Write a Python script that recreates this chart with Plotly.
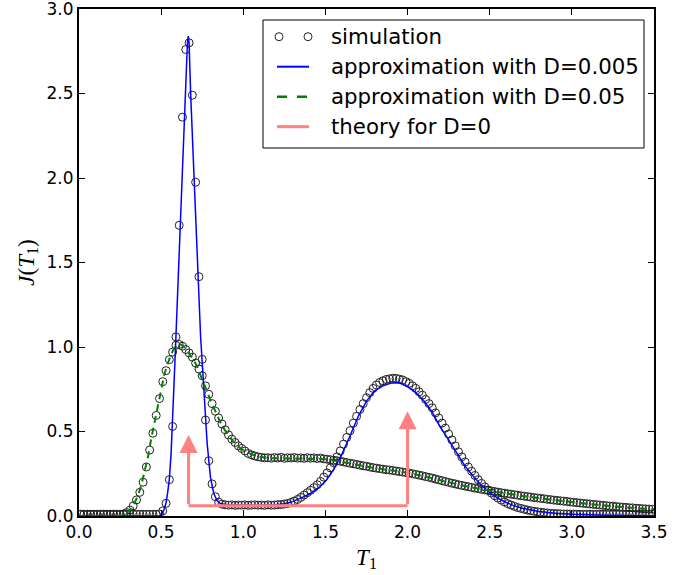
import plotly.graph_objects as go

# ---------------- data ----------------
# bin centres of the simulated histograms
sim_t = [
    0.01, 0.03, 0.05, 0.07, 0.09, 0.11, 0.13, 0.15, 0.17, 0.19,
    0.21, 0.23, 0.25, 0.27, 0.29, 0.31, 0.33, 0.35, 0.37, 0.39,
    0.41, 0.43, 0.45, 0.47, 0.49, 0.51, 0.53, 0.55, 0.57, 0.59,
    0.61, 0.63, 0.65, 0.67, 0.69, 0.71, 0.73, 0.75, 0.77, 0.79,
    0.81, 0.83, 0.85, 0.87, 0.89, 0.91, 0.93, 0.95, 0.97, 0.99,
    1.01, 1.03, 1.05, 1.07, 1.09, 1.11, 1.13, 1.15, 1.17, 1.19,
    1.21, 1.23, 1.25, 1.27, 1.29, 1.31, 1.33, 1.35, 1.37, 1.39,
    1.41, 1.43, 1.45, 1.47, 1.49, 1.51, 1.53, 1.55, 1.57, 1.59,
    1.61, 1.63, 1.65, 1.67, 1.69, 1.71, 1.73, 1.75, 1.77, 1.79,
    1.81, 1.83, 1.85, 1.87, 1.89, 1.91, 1.93, 1.95, 1.97, 1.99,
    2.01, 2.03, 2.05, 2.07, 2.09, 2.11, 2.13, 2.15, 2.17, 2.19,
    2.21, 2.23, 2.25, 2.27, 2.29, 2.31, 2.33, 2.35, 2.37, 2.39,
    2.41, 2.43, 2.45, 2.47, 2.49, 2.51, 2.53, 2.55, 2.57, 2.59,
    2.61, 2.63, 2.65, 2.67, 2.69, 2.71, 2.73, 2.75, 2.77, 2.79,
    2.81, 2.83, 2.85, 2.87, 2.89, 2.91, 2.93, 2.95, 2.97, 2.99,
    3.01, 3.03, 3.05, 3.07, 3.09, 3.11, 3.13, 3.15, 3.17, 3.19,
    3.21, 3.23, 3.25, 3.27, 3.29, 3.31, 3.33, 3.35, 3.37, 3.39,
    3.41, 3.43, 3.45, 3.47, 3.49,
]

# simulation, D = 0.005
sim_j_d005 = [
    0.01, 0.01, 0.01, 0.01, 0.01, 0.01, 0.01, 0.01, 0.01, 0.01,
    0.01, 0.01, 0.01, 0.01, 0.01, 0.01, 0.01, 0.01, 0.01, 0.01,
    0.01, 0.01, 0.01, 0.01, 0.012, 0.03, 0.075, 0.215, 0.53, 1.06,
    1.72, 2.36, 2.76, 2.80, 2.49, 1.975, 1.416, 0.927, 0.568, 0.327,
    0.19, 0.114, 0.082, 0.07, 0.066, 0.064, 0.066, 0.063, 0.065, 0.064,
    0.066, 0.063, 0.065, 0.066, 0.064, 0.065, 0.063, 0.066, 0.064, 0.065,
    0.067, 0.068, 0.071, 0.074, 0.08, 0.088, 0.098, 0.11, 0.124, 0.138,
    0.152, 0.168, 0.185, 0.205, 0.23, 0.255, 0.285, 0.315, 0.35, 0.385,
    0.425, 0.465, 0.505, 0.55, 0.59, 0.63, 0.665, 0.70, 0.73, 0.755,
    0.775, 0.79, 0.80, 0.808, 0.812, 0.815, 0.814, 0.81, 0.805, 0.795,
    0.785, 0.77, 0.755, 0.735, 0.715, 0.69, 0.665, 0.64, 0.61, 0.58,
    0.55, 0.52, 0.485, 0.45, 0.415, 0.38, 0.35, 0.32, 0.29, 0.265,
    0.24, 0.215, 0.193, 0.172, 0.153, 0.136, 0.12, 0.106, 0.094, 0.083,
    0.073, 0.065, 0.057, 0.05, 0.045, 0.04, 0.035, 0.031, 0.028, 0.025,
    0.022, 0.02, 0.018, 0.016, 0.015, 0.014, 0.013, 0.012, 0.012, 0.011,
    0.011, 0.01, 0.01, 0.01, 0.01, 0.01, 0.01, 0.01, 0.01, 0.01,
    0.01, 0.01, 0.01, 0.01, 0.01, 0.01, 0.01, 0.01, 0.01, 0.01,
    0.01, 0.01, 0.01, 0.01, 0.01,
]

# simulation, D = 0.05
sim_j_d05 = [
    0.01, 0.01, 0.01, 0.01, 0.01, 0.01, 0.01, 0.01, 0.01, 0.01,
    0.01, 0.01, 0.01, 0.012, 0.02, 0.035, 0.06, 0.095, 0.14, 0.20,
    0.29, 0.39, 0.49, 0.595, 0.695, 0.795, 0.86, 0.925, 0.97, 1.01,
    1.015, 1.005, 0.985, 0.965, 0.94, 0.905, 0.87, 0.83, 0.77, 0.72,
    0.665, 0.62, 0.58, 0.545, 0.51, 0.48, 0.455, 0.435, 0.415, 0.40,
    0.385, 0.37, 0.362, 0.355, 0.35, 0.347, 0.344, 0.345, 0.342, 0.346,
    0.343, 0.347, 0.341, 0.345, 0.343, 0.346, 0.342, 0.344, 0.341, 0.345,
    0.342, 0.344, 0.34, 0.343, 0.338, 0.336, 0.333, 0.33, 0.327, 0.324,
    0.32, 0.316, 0.312, 0.309, 0.305, 0.301, 0.297, 0.294, 0.29, 0.286,
    0.283, 0.28, 0.277, 0.274, 0.272, 0.269, 0.266, 0.263, 0.26, 0.257,
    0.254, 0.25, 0.246, 0.242, 0.238, 0.233, 0.229, 0.224, 0.219, 0.214,
    0.209, 0.204, 0.199, 0.194, 0.19, 0.185, 0.181, 0.177, 0.173, 0.169,
    0.165, 0.162, 0.158, 0.155, 0.151, 0.148, 0.145, 0.141, 0.138, 0.135,
    0.132, 0.129, 0.126, 0.123, 0.12, 0.117, 0.115, 0.112, 0.109, 0.107,
    0.104, 0.102, 0.099, 0.097, 0.094, 0.092, 0.09, 0.088, 0.086, 0.083,
    0.081, 0.079, 0.077, 0.075, 0.073, 0.071, 0.069, 0.067, 0.065, 0.063,
    0.061, 0.059, 0.058, 0.056, 0.054, 0.052, 0.051, 0.049, 0.048, 0.046,
    0.045, 0.043, 0.042, 0.041, 0.04,
]

# approximation, D = 0.005 (blue solid)
apx_t_d005 = [
    0.00, 0.46, 0.49, 0.50, 0.51, 0.52, 0.53, 0.54, 0.55, 0.56,
    0.57, 0.58, 0.59, 0.60, 0.62, 0.64, 0.66, 0.665, 0.67, 0.68,
    0.70, 0.72, 0.74, 0.76, 0.78, 0.80, 0.82, 0.84, 0.86, 0.90,
    1.00, 1.10, 1.20, 1.25, 1.30, 1.35, 1.40, 1.45, 1.50, 1.55,
    1.60, 1.65, 1.70, 1.75, 1.80, 1.85, 1.90, 1.95, 2.00, 2.05,
    2.10, 2.15, 2.20, 2.25, 2.30, 2.35, 2.40, 2.45, 2.50, 2.55,
    2.60, 2.65, 2.70, 2.75, 2.80, 2.90, 3.00, 3.20, 3.50,
]
apx_j_d005 = [
    0.0, 0.0, 0.002, 0.006, 0.02, 0.045, 0.08, 0.14, 0.22, 0.36,
    0.56, 0.82, 1.06, 1.315, 1.83, 2.35, 2.80, 2.84, 2.80, 2.49,
    2.01, 1.54, 1.065, 0.75, 0.43, 0.23, 0.135, 0.092, 0.074, 0.066,
    0.063, 0.063, 0.066, 0.072, 0.085, 0.106, 0.128, 0.16, 0.205, 0.275,
    0.365, 0.475, 0.59, 0.68, 0.74, 0.77, 0.787, 0.788, 0.765, 0.73,
    0.68, 0.615, 0.525, 0.45, 0.37, 0.295, 0.235, 0.18, 0.14, 0.105,
    0.08, 0.06, 0.046, 0.035, 0.027, 0.017, 0.011, 0.005, 0.002,
]

# approximation, D = 0.05 (green dashed)
apx_t_d05 = [
    0.00, 0.24, 0.26, 0.28, 0.30, 0.32, 0.34, 0.36, 0.38, 0.40,
    0.42, 0.44, 0.46, 0.48, 0.50, 0.52, 0.54, 0.56, 0.58, 0.60,
    0.62, 0.64, 0.66, 0.68, 0.70, 0.72, 0.74, 0.76, 0.78, 0.80,
    0.82, 0.84, 0.86, 0.88, 0.90, 0.92, 0.94, 0.96, 0.98, 1.00,
    1.05, 1.10, 1.15, 1.20, 1.30, 1.40, 1.50, 1.60, 1.70, 1.80,
    1.90, 2.00, 2.10, 2.20, 2.30, 2.40, 2.50, 2.60, 2.70, 2.80,
    2.90, 3.00, 3.10, 3.20, 3.30, 3.40, 3.50,
]
apx_j_d05 = [
    0.0, 0.0, 0.005, 0.012, 0.025, 0.045, 0.08, 0.125, 0.185, 0.26,
    0.35, 0.46, 0.56, 0.66, 0.76, 0.84, 0.90, 0.955, 0.995, 1.015,
    1.015, 1.0, 0.978, 0.952, 0.92, 0.88, 0.835, 0.785, 0.735, 0.685,
    0.64, 0.595, 0.555, 0.52, 0.488, 0.462, 0.44, 0.42, 0.403, 0.39,
    0.365, 0.35, 0.343, 0.341, 0.34, 0.34, 0.336, 0.32, 0.30, 0.283,
    0.27, 0.256, 0.235, 0.21, 0.188, 0.167, 0.15, 0.132, 0.118, 0.106,
    0.093, 0.082, 0.071, 0.062, 0.053, 0.045, 0.04,
]

# theory for D = 0: two delta peaks (arrows) on a flat plateau
theory_t = [0.667, 2.0]
theory_base = 0.06
theory_peak = [0.48, 0.62]

# axis ticks
x_ticks = [0.0, 0.5, 1.0, 1.5, 2.0, 2.5, 3.0, 3.5]
y_ticks = [0.0, 0.5, 1.0, 1.5, 2.0, 2.5, 3.0]

# legend entries
legend_labels = ["simulation", "approximation with D=0.005",
                 "approximation with D=0.05", "theory for D=0"]

# ---------------- figure ----------------
W, H = 695, 575
ML, MR, MT, MB = 79, 41, 9, 59
PW, PH = W - ML - MR, H - MT - MB

def px(xp):   # page pixel -> paper x
    return (xp - ML) / PW

def py(yp):   # page pixel -> paper y
    return (H - MB - yp) / PH

PINK = "#ff8080"
BLUE = "#0000ff"
GREEN = "#008000"
CIRC = "#222222"
TICKFONT = dict(family="DejaVu Sans", size=17, color="black")
MATHFONT = dict(family="Liberation Serif", size=23, color="black")

fig = go.Figure()

circle = dict(symbol="circle-open", size=8, color=CIRC, line=dict(width=1))
fig.add_trace(go.Scatter(x=sim_t, y=sim_j_d005, mode="markers", marker=circle,
                         name=legend_labels[0]))
fig.add_trace(go.Scatter(x=sim_t, y=sim_j_d05, mode="markers", marker=circle,
                         name=legend_labels[0]))
fig.add_trace(go.Scatter(x=apx_t_d005, y=apx_j_d005, mode="lines",
                         line=dict(color=BLUE, width=1.5),
                         name=legend_labels[1]))
fig.add_trace(go.Scatter(x=apx_t_d05, y=apx_j_d05, mode="lines",
                         line=dict(color=GREEN, width=2, dash="7px,5px"),
                         name=legend_labels[2]))
fig.add_trace(go.Scatter(x=theory_t, y=[theory_base, theory_base], mode="lines",
                         line=dict(color=PINK, width=3),
                         name=legend_labels[3]))

for t, h in zip(theory_t, theory_peak):
    fig.add_annotation(x=t, y=h, ax=t, ay=theory_base, xref="x", yref="y",
                       axref="x", ayref="y", text="", showarrow=True,
                       arrowhead=2, arrowsize=1.2, arrowwidth=3,
                       arrowcolor=PINK, standoff=0, startstandoff=0)

# ---- legend box drawn by hand (matplotlib style) ----
shapes = [dict(type="rect", xref="paper", yref="paper",
               x0=px(263), x1=px(644), y0=py(148), y1=py(20),
               line=dict(color="black", width=1), fillcolor="white", layer="above")]
row_y = [36.7, 66.7, 96.7, 126.7]
sym_x0, sym_x1 = 277, 309
# simulation: two open circles
for cx in (279, 308):
    shapes.append(dict(type="circle", xref="paper", yref="paper",
                       xsizemode="pixel", ysizemode="pixel",
                       xanchor=px(cx), yanchor=py(row_y[0]),
                       x0=-4, x1=4, y0=-4, y1=4,
                       line=dict(color=CIRC, width=1), layer="above"))
styles = [dict(color=BLUE, width=2), dict(color=GREEN, width=2.5, dash="10px,10px"),
          dict(color=PINK, width=3)]
for ry, st in zip(row_y[1:], styles):
    shapes.append(dict(type="line", xref="paper", yref="paper",
                       x0=px(sym_x0), x1=px(sym_x1), y0=py(ry), y1=py(ry),
                       line=st, layer="above"))
for ry, lab in zip(row_y, legend_labels):
    fig.add_annotation(x=px(329), y=py(ry), xref="paper", yref="paper",
                       text=lab, showarrow=False, xanchor="left", yanchor="middle",
                       font=dict(family="DejaVu Sans", size=21.3, color="black"))

axis_common = dict(
    showline=True, linewidth=2, linecolor="black", mirror="ticks",
    ticks="inside", ticklen=6, tickwidth=1, tickcolor="black",
    showgrid=False, zeroline=False, tickfont=TICKFONT,
    ticklabeloverflow="allow",
)

fig.update_xaxes(range=[0, 3.5], tickvals=x_ticks,
                 ticktext=[f"{v:.1f}" for v in x_ticks],
                 title=dict(text="<i>T</i><sub>1</sub>", font=MATHFONT, standoff=7),
                 **axis_common)
fig.update_yaxes(range=[0, 3.0], tickvals=y_ticks,
                 ticktext=[f"{v:.1f}" for v in y_ticks],
                 title=dict(text="<i>J</i>(<i>T</i><sub>1</sub>)", font=MATHFONT, standoff=6),
                 **axis_common)

fig.update_layout(
    width=W, height=H, showlegend=False,
    margin=dict(l=ML, r=MR, t=MT, b=MB, autoexpand=False),
    plot_bgcolor="white", paper_bgcolor="white",
    shapes=shapes,
)

fig.write_html("out.html", config={"displayModeBar": False},
               post_script="document.body.style.margin='0';document.body.style.padding='0';")
